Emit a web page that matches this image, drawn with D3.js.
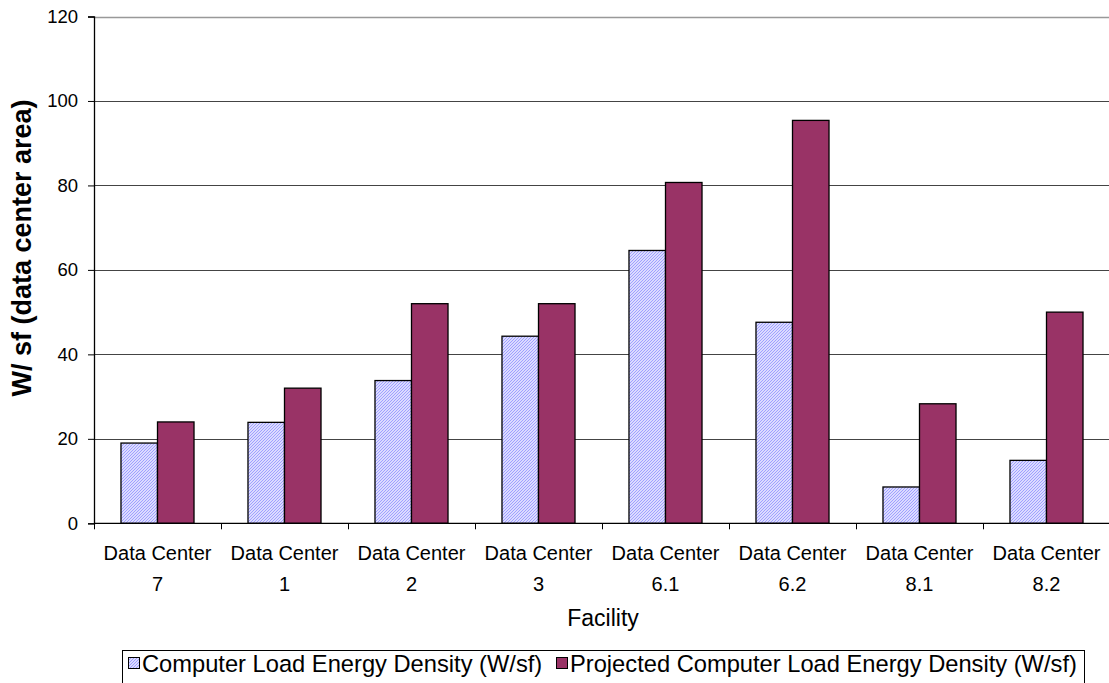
<!DOCTYPE html>
<html>
<head>
<meta charset="utf-8">
<script src="https://cdn.jsdelivr.net/npm/d3@7"></script>
<style>
html,body{margin:0;padding:0;background:#fff;}
svg{display:block;font-family:"Liberation Sans",Arial,sans-serif;}
</style>
</head>
<body>
<svg id="chart" width="1109" height="683"></svg>
<script>
const categories = ["Data Center|7","Data Center|1","Data Center|2","Data Center|3","Data Center|6.1","Data Center|6.2","Data Center|8.1","Data Center|8.2"];
const seriesNames = ["Computer Load Energy Density (W/sf)","Projected Computer Load Energy Density (W/sf)"];
const currentLoad = [19.0, 23.9, 33.8, 44.3, 64.6, 47.6, 8.6, 14.9];
const projectedLoad = [24.0, 32.0, 52.0, 52.0, 80.7, 95.4, 28.3, 50.0];
const yTicks = [0, 20, 40, 60, 80, 100, 120];

const svg = d3.select("#chart");
const W = 1109, H = 683;
const x0 = 94, x1 = 1110, yTop = 16.5, yBot = 523.3;

const defs = svg.append("defs");
const pat = defs.append("pattern").attr("id","hatch").attr("patternUnits","userSpaceOnUse")
  .attr("width",3).attr("height",3);
pat.append("rect").attr("width",3).attr("height",3).attr("fill","#f6f6ff");
pat.append("path").attr("d","M0,3 L3,0 M-1,1 L1,-1 M2,4 L4,2").attr("stroke","#9a9aff").attr("stroke-width",1.1);

const x = d3.scaleBand().domain(categories).range([x0, x1]).paddingInner(0.425).paddingOuter(0.2125);
const xs = d3.scaleBand().domain([0,1]).range([0, x.bandwidth()]);
const y = d3.scaleLinear().domain([0,120]).range([yBot, yTop]);

// gridlines
svg.append("g").selectAll("line").data(yTicks.filter(d=>d>0)).join("line")
  .attr("x1", x0).attr("x2", x1).attr("y1", d=>Math.round(y(d))+0.5).attr("y2", d=>Math.round(y(d))+0.5)
  .attr("stroke", d=> d===120 ? "#999" : "#444").attr("stroke-width", d=> d===120?1.5:1);

// bars
const fills = ["url(#hatch)", "#993366"];
const data = categories.map((c,i)=>({c, v:[currentLoad[i], projectedLoad[i]]}));
const g = svg.append("g").selectAll("g").data(data).join("g").attr("transform", d=>`translate(${x(d.c)},0)`);
g.selectAll("rect").data(d=>d.v.map((v,k)=>({v,k}))).join("rect")
  .attr("x", d=>xs(d.k)).attr("width", xs.bandwidth())
  .attr("y", d=>y(d.v)).attr("height", d=>yBot - y(d.v))
  .attr("fill", d=>fills[d.k]).attr("stroke","#000").attr("stroke-width",1.3);

// y axis
const yAxis = d3.axisLeft(y).tickValues(yTicks).tickSize(6).tickPadding(10);
const ya = svg.append("g").attr("transform",`translate(${x0},0)`).call(yAxis);
ya.select(".domain").attr("stroke","#000").attr("stroke-width",1.3);
ya.selectAll(".tick line").attr("stroke","#000");
ya.selectAll("text").attr("font-size",18.5).attr("fill","#000").attr("font-family","Liberation Sans, Arial, sans-serif");

// x axis
const xa = svg.append("g").attr("transform",`translate(0,${yBot})`);
xa.append("line").attr("x1",x0).attr("x2",x1).attr("stroke","#000").attr("stroke-width",1.3);
const bounds = d3.range(categories.length+1).map(i=>x0 + i*(x1-x0)/categories.length);
xa.selectAll("line.tk").data(bounds).join("line").attr("class","tk")
  .attr("x1",d=>Math.round(d)+0.5).attr("x2",d=>Math.round(d)+0.5).attr("y1",0).attr("y2",6).attr("stroke","#000");
const lab = xa.selectAll("text.cl").data(categories).join("text").attr("class","cl")
  .attr("text-anchor","middle").attr("font-size",20).attr("fill","#000")
  .attr("transform", d=>`translate(${x(d)+x.bandwidth()/2},0)`);
lab.each(function(d){
  const parts = d.split("|");
  const t = d3.select(this);
  parts.forEach((p,i)=>t.append("tspan").attr("x",0).attr("y",37+i*31).text(p));
});

// axis titles
svg.append("text").attr("x",603).attr("y",626).attr("text-anchor","middle")
  .attr("font-size",23).attr("fill","#000").text("Facility");
svg.append("text").attr("transform","translate(31,248) rotate(-90)").attr("text-anchor","middle")
  .attr("font-size",27).attr("font-weight","bold").attr("fill","#000").text("W/ sf (data center area)");

// legend
const leg = svg.append("g");
leg.append("rect").attr("x",122.5).attr("y",650.5).attr("width",962).attr("height",40).attr("fill","#fff").attr("stroke","#000").attr("stroke-width",1);
const legX = [128, 556];
seriesNames.forEach((s,i)=>{
  leg.append("rect").attr("x",legX[i]+0.5).attr("y",657.5).attr("width",11).attr("height",11)
    .attr("fill",fills[i]).attr("stroke","#000").attr("stroke-width",1);
  leg.append("text").attr("x",legX[i]+14).attr("y",672).attr("font-size",23.7).attr("fill","#000").text(s);
});
</script>
</body>
</html>
